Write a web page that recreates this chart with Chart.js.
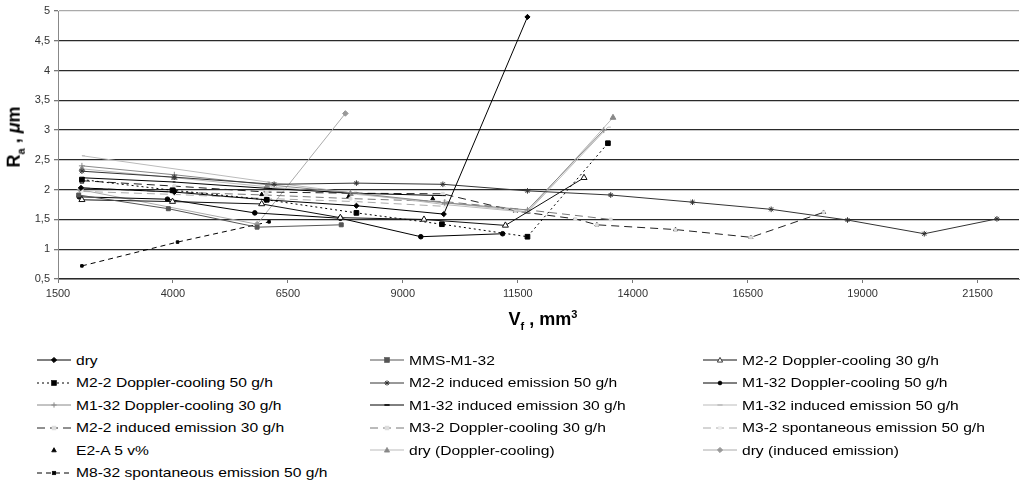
<!DOCTYPE html>
<html>
<head>
<meta charset="utf-8">
<script src="https://cdn.jsdelivr.net/npm/chart.js@4/dist/chart.umd.min.js"></script>
<style>
    body { margin: 0; background: #fff; width: 1024px; height: 483px; overflow: hidden; position: relative;
           font-family: "Liberation Sans", Arial, sans-serif; color: #000; }
    #graph { position: absolute; left: 0; top: 0; }
    .titre-y { position: absolute; left: 15px; top: 137px; transform: translate(-50%, -50%) rotate(-90deg);
               font-weight: bold; font-size: 18px; white-space: nowrap; }
    .titre-x { position: absolute; left: 543px; top: 320px; transform: translate(-50%, -50%);
               font-weight: bold; font-size: 18px; white-space: nowrap; }
    .titre-x sub, .titre-y sub { font-size: 11px; }
    .titre-x sup { font-size: 11px; }
    .item { position: absolute; height: 20px; display: flex; align-items: center; }
    .item svg { width: 34px; height: 12px; margin-right: 5px; }
    .item span { font-size: 13px; transform: scaleX(1.2); transform-origin: left center; white-space: nowrap; }
</style>
</head>
<body>
<canvas id="graph" width="1024" height="310"></canvas>
<div class="titre-y">R<sub>a</sub> , <i>μ</i>m</div>
<div class="titre-x">V<sub>f</sub> , mm<sup>3</sup></div>
<div id="legende"></div>
<script>
// Graduations des axes
const xTicks = [1500, 4000, 6500, 9000, 11500, 14000, 16500, 19000, 21500];
const yTicks = [0.5, 1, 1.5, 2, 2.5, 3, 3.5, 4, 4.5, 5];

// Séries (Vf en mm3, Ra en µm)
const dryX = [2000, 4030, 6020, 7990, 9890, 11710];
const dryY = [2.03, 1.96, 1.83, 1.73, 1.59, 4.9];

const mmsX = [1950, 3900, 5830, 7660];
const mmsY = [1.91, 1.68, 1.37, 1.41];

const m22dc30X = [2020, 3990, 5930, 7640, 9460, 11230, 12940];
const m22dc30Y = [1.83, 1.8, 1.76, 1.53, 1.5, 1.4, 2.2];

const m22dc50X = [2020, 3990, 6040, 7990, 9850, 11710, 13460];
const m22dc50Y = [2.17, 1.99, 1.83, 1.61, 1.42, 1.21, 2.78];

const m22ie50X = [2020, 4030, 6200, 7990, 9870, 11710, 13520, 15300, 17010, 18670, 20340, 21920];
const m22ie50Y = [2.31, 2.21, 2.09, 2.11, 2.09, 1.98, 1.91, 1.79, 1.67, 1.49, 1.26, 1.51];

const m132dc50X = [1960, 3880, 5780, 7640, 9390, 11170];
const m132dc50Y = [1.88, 1.84, 1.61, 1.52, 1.21, 1.26];

const m132dc30X = [2020, 4030, 6090, 7860, 9910, 11710, 13370];
const m132dc30Y = [2.4, 2.25, 2.08, 1.95, 1.78, 1.66, 3.0];

const m132ie30X = [2020, 3990, 6090, 7970, 9870];
const m132ie30Y = [2.2, 2.13, 2.02, 1.94, 1.9];

const m132ie50X = [2020, 6040, 9910, 11710, 13460];
const m132ie50Y = [2.57, 2.13, 1.75, 1.62, 3.05];

const m22ie30X = [2020, 4030, 6040, 7970, 9870, 11450, 12750, 13220, 14930, 16570, 18150];
const m22ie30Y = [2.15, 2.06, 1.96, 1.94, 1.93, 1.64, 1.51, 1.41, 1.33, 1.2, 1.62];

const m32dc30X = [2020, 3990, 6020, 7860, 9910, 11710, 13520];
const m32dc30Y = [2.03, 1.96, 1.91, 1.85, 1.8, 1.66, 1.5];

const m32se50X = [2020, 4030, 6090, 7970, 9910];
const m32se50Y = [1.97, 1.92, 1.85, 1.8, 1.72];

const e2aX = [2020, 4030, 5930, 7820, 9650, 11450, 13220, 14930, 16570, 18150];
const e2aY = [2.13, 2.0, 1.92, 1.88, 1.85, 1.64, 1.41, 1.33, 1.2, 1.62];

const dryDcX = [2020, 4030, 6040, 7860, 9910, 11710, 13570];
const dryDcY = [2.35, 2.2, 2.05, 1.93, 1.78, 1.63, 3.21];

const dryIeX = [1980, 5830, 7750];
const dryIeY = [2.0, 1.42, 3.28];

const m832se50X = [2020, 4100, 6090];
const m832se50Y = [0.72, 1.12, 1.46];

function points(xs, ys) {
    return xs.map((x, i) => ({ x: x, y: ys[i] }));
}

function serie(label, xs, ys, couleur, style) {
    return Object.assign({
        label: label,
        data: points(xs, ys),
        showLine: true,
        borderColor: couleur,
        backgroundColor: couleur,
        pointBorderColor: couleur,
        pointBackgroundColor: couleur,
        borderWidth: 1,
        pointBorderWidth: 1,
        pointRadius: 2.2,
        pointStyle: 'circle',
        borderDash: []
    }, style || {});
}

const datasets = [
    serie('dry', dryX, dryY, '#000', { pointStyle: 'rectRot', pointRadius: 2.6 }),
    serie('MMS-M1-32', mmsX, mmsY, '#555', { pointStyle: 'rect', pointRadius: 2.8 }),
    serie('M2-2 Doppler-cooling 30 g/h', m22dc30X, m22dc30Y, '#111', { pointStyle: 'triangle', pointRadius: 3.5, pointBackgroundColor: '#fff' }),
    serie('M2-2 Doppler-cooling 50 g/h', m22dc50X, m22dc50Y, '#000', { pointStyle: 'rect', pointRadius: 3.3, borderDash: [2, 3] }),
    serie('M2-2 induced emission 50 g/h', m22ie50X, m22ie50Y, '#333', { pointStyle: 'star', pointRadius: 2.8 }),
    serie('M1-32 Doppler-cooling 50 g/h', m132dc50X, m132dc50Y, '#000', { pointStyle: 'circle', pointRadius: 2.3 }),
    serie('M1-32 Doppler-cooling 30 g/h', m132dc30X, m132dc30Y, '#888', { pointStyle: 'cross', pointRadius: 3 }),
    serie('M1-32 induced emission 30 g/h', m132ie30X, m132ie30Y, '#000', { pointStyle: 'dash', pointRadius: 3 }),
    serie('M1-32 induced emission 50 g/h', m132ie50X, m132ie50Y, '#bbb', { pointStyle: 'dash', pointRadius: 3 }),
    serie('M2-2 induced emission 30 g/h', m22ie30X, m22ie30Y, '#222', { pointStyle: 'rect', pointRadius: 2, pointBackgroundColor: '#ddd', pointBorderColor: '#ddd', borderDash: [8, 5] }),
    serie('M3-2 Doppler-cooling 30 g/h', m32dc30X, m32dc30Y, '#777', { pointStyle: 'rect', pointRadius: 2, pointBackgroundColor: '#ddd', pointBorderColor: '#ddd', borderDash: [8, 5] }),
    serie('M3-2 spontaneous emission 50 g/h', m32se50X, m32se50Y, '#aaa', { pointStyle: 'rect', pointRadius: 1.5, pointBackgroundColor: '#eee', pointBorderColor: '#eee', borderDash: [8, 5] }),
    serie('E2-A 5 v%', e2aX, e2aY, '#000', { showLine: false, pointStyle: 'triangle', pointRadius: 2.3 }),
    serie('dry (Doppler-cooling)', dryDcX, dryDcY, '#bbb', { pointStyle: 'triangle', pointRadius: 3.3, pointBackgroundColor: '#888', pointBorderColor: '#888' }),
    serie('dry (induced emission)', dryIeX, dryIeY, '#aaa', { pointStyle: 'rectRot', pointRadius: 2.8, pointBackgroundColor: '#999', pointBorderColor: '#999' }),
    serie('M8-32 spontaneous emission 50 g/h', m832se50X, m832se50Y, '#000', { pointStyle: 'rect', pointRadius: 1.8, borderDash: [5, 4] })
];

const police = { family: '"Liberation Sans", Arial, sans-serif', size: 11 };

new Chart(document.getElementById('graph').getContext('2d'), {
    type: 'scatter',
    data: { datasets: datasets },
    options: {
        responsive: false,
        animation: false,
        layout: { padding: { top: 11, right: 0, bottom: 0, left: 0 } },
        plugins: { legend: { display: false }, tooltip: { enabled: false } },
        scales: {
            x: {
                type: 'linear',
                min: 1500,
                max: 22400,
                afterBuildTicks: s => { s.ticks = xTicks.map(v => ({ value: v })); },
                afterFit: s => { s.height = 31; },
                grid: { drawOnChartArea: false, drawTicks: true, tickLength: 4, tickColor: '#777' },
                border: { color: '#888', width: 1 },
                ticks: { font: police, color: '#333', padding: 4, maxRotation: 0, autoSkip: false,
                         callback: v => String(v) }
            },
            y: {
                min: 0.5,
                max: 5,
                afterBuildTicks: s => { s.ticks = yTicks.map(v => ({ value: v })); },
                afterFit: s => { s.width = 58; },
                grid: {
                    color: c => (c.tick && c.tick.value === 5) ? '#aaa' : '#2a2a2a',
                    lineWidth: 1.3,
                    tickLength: 4,
                    tickColor: '#777'
                },
                border: { color: '#888', width: 1 },
                ticks: {
                    font: police,
                    color: '#333',
                    padding: 4,
                    callback: v => String(v).replace('.', ',')
                }
            }
        }
    }
});

// Légende en trois colonnes
function marqueur(ds, cx, cy) {
    const r = Math.min(ds.pointRadius, 2.6);
    const f = ds.pointBackgroundColor, s = ds.pointBorderColor;
    switch (ds.pointStyle) {
        case 'rect':
            return `<rect x="${cx - r}" y="${cy - r}" width="${2 * r}" height="${2 * r}" fill="${f}" stroke="${s}" stroke-width="0.5"/>`;
        case 'rectRot':
            return `<polygon points="${cx},${cy - r} ${cx + r},${cy} ${cx},${cy + r} ${cx - r},${cy}" fill="${f}" stroke="${s}"/>`;
        case 'triangle':
            return `<polygon points="${cx},${cy - r} ${cx + r},${cy + r * 0.8} ${cx - r},${cy + r * 0.8}" fill="${f}" stroke="${s}" stroke-width="0.8"/>`;
        case 'cross':
            return `<path d="M${cx - r} ${cy}H${cx + r}M${cx} ${cy - r}V${cy + r}" stroke="${s}"/>`;
        case 'star':
            return `<path d="M${cx - r} ${cy}H${cx + r}M${cx} ${cy - r}V${cy + r}M${cx - r * 0.7} ${cy - r * 0.7}L${cx + r * 0.7} ${cy + r * 0.7}M${cx - r * 0.7} ${cy + r * 0.7}L${cx + r * 0.7} ${cy - r * 0.7}" stroke="${s}"/>`;
        case 'dash':
            return `<path d="M${cx - r} ${cy}H${cx + r}" stroke="${s}" stroke-width="1.5"/>`;
        default:
            return `<circle cx="${cx}" cy="${cy}" r="${r * 0.8}" fill="${f}" stroke="${s}"/>`;
    }
}

const colonnesX = [37, 370, 703];
const legende = document.getElementById('legende');
datasets.forEach((ds, i) => {
    const item = document.createElement('div');
    item.className = 'item';
    item.style.left = colonnesX[i % 3] + 'px';
    item.style.top = (350 + 22.5 * Math.floor(i / 3)) + 'px';
    const trait = ds.showLine
        ? `<line x1="0" y1="6" x2="34" y2="6" stroke="${ds.borderColor}" stroke-width="1" stroke-dasharray="${ds.borderDash.join(' ')}"/>`
        : '';
    item.innerHTML = `<svg viewBox="0 0 34 12">${trait}${marqueur(ds, 17, 6)}</svg><span>${ds.label}</span>`;
    legende.appendChild(item);
});
</script>
</body>
</html>
